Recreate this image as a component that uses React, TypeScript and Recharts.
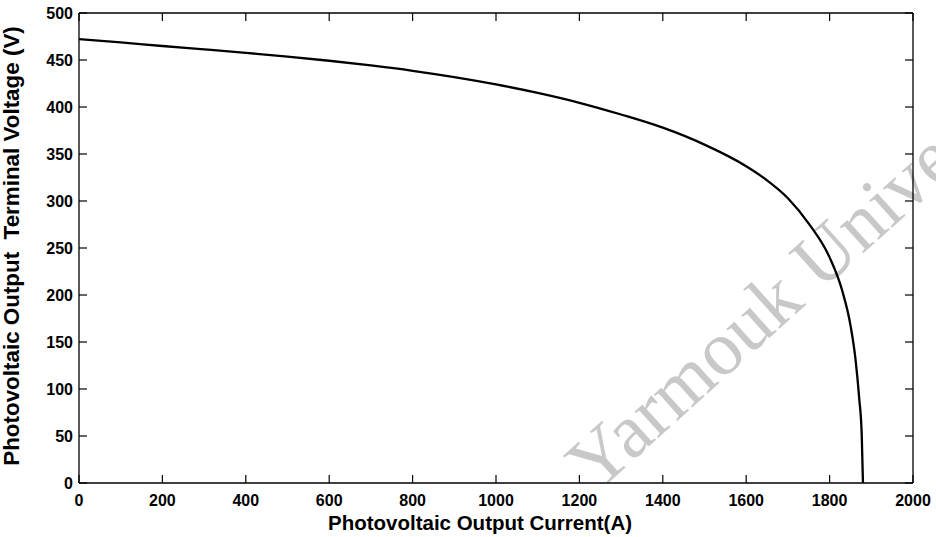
import { LineChart, Line, XAxis, YAxis, ReferenceLine } from "recharts";

// PV array I-V characteristic: output current (A) vs terminal voltage (V)
const currentA = [
  0, 100, 200, 300, 400, 500, 600, 700, 800, 900, 1000, 1100, 1200, 1300,
  1400, 1500, 1600, 1650, 1700, 1750, 1800, 1830, 1850, 1862, 1871, 1877, 1880,
];
const voltageV = [
  472.2, 468.7, 464.9, 461.3, 457.6, 453.6, 449.2, 444.2, 438.5, 431.8, 424,
  415, 404.5, 392, 378, 360, 337, 322, 303, 276, 240, 205, 168, 132, 90, 52, 0,
];

const xTicks = [0, 200, 400, 600, 800, 1000, 1200, 1400, 1600, 1800, 2000];
const yTicks = [0, 50, 100, 150, 200, 250, 300, 350, 400, 450, 500];

const data = currentA.map((c, i) => ({ current: c, voltage: voltageV[i] }));

const W = 936;
const H = 537;
const MARGIN = { top: 13, right: 23, bottom: 0, left: 0 };
const X_AXIS_H = 54;
const Y_AXIS_W = 79;
const PLOT_W = W - MARGIN.right - MARGIN.left - Y_AXIS_W;
const PLOT_H = H - MARGIN.top - MARGIN.bottom - X_AXIS_H;

const FONT = '"Liberation Sans", Arial, Helvetica, sans-serif';
const TICK_LEN = 8;

// bottom ticks also draw the mirrored inward tick on the top edge
const BottomTick = ({ x, y, payload }: any) => (
  <g>
    <line x1={x} y1={y} x2={x} y2={y - TICK_LEN} stroke="#000" strokeWidth={1.2} />
    <line
      x1={x}
      y1={y - PLOT_H}
      x2={x}
      y2={y - PLOT_H + TICK_LEN}
      stroke="#000"
      strokeWidth={1.2}
    />
    <text
      x={x}
      y={y + 23}
      textAnchor="middle"
      fontFamily={FONT}
      fontWeight="bold"
      fontSize={16}
      fill="#000"
    >
      {payload.value}
    </text>
  </g>
);

// left ticks also draw the mirrored inward tick on the right edge
const LeftTick = ({ x, y, payload }: any) => (
  <g>
    <line x1={x} y1={y} x2={x + TICK_LEN} y2={y} stroke="#000" strokeWidth={1.2} />
    <line
      x1={x + PLOT_W}
      y1={y}
      x2={x + PLOT_W - TICK_LEN}
      y2={y}
      stroke="#000"
      strokeWidth={1.2}
    />
    <text
      x={x - 6}
      y={y}
      dy="0.36em"
      textAnchor="end"
      fontFamily={FONT}
      fontWeight="bold"
      fontSize={16}
      fill="#000"
    >
      {payload.value}
    </text>
  </g>
);

const axisLine = { stroke: "#000", strokeWidth: 1.3 };

export default function App() {
  return (
    <div style={{ position: "absolute", left: 0, top: 0, width: W, height: H, background: "#fff" }}>
      {/* watermark sits under the chart */}
      <svg width={W} height={H} style={{ position: "absolute", left: 0, top: 0 }}>
        <text
          x={596}
          y={494}
          transform="rotate(-42 596 494)"
          fontFamily='"Liberation Serif", "Times New Roman", serif'
          fontSize={77}
          fill="#c8c8c8"
        >
          Yarmouk University
        </text>
      </svg>
      <div style={{ position: "absolute", left: 0, top: 0 }}>
        <LineChart width={W} height={H} data={data} margin={MARGIN}>
          <XAxis
            dataKey="current"
            type="number"
            domain={[0, 2000]}
            ticks={xTicks}
            allowDataOverflow
            height={X_AXIS_H}
            tickSize={0}
            tickMargin={0}
            tick={<BottomTick />}
            tickLine={false}
            axisLine={axisLine}
            interval={0}
            label={{
              content: () => (
                <text
                  x={480}
                  y={530}
                  textAnchor="middle"
                  fontFamily={FONT}
                  fontWeight="bold"
                  fontSize={20.5}
                  fill="#000"
                >
                  Photovoltaic Output Current(A)
                </text>
              ),
            }}
          />
          <YAxis
            dataKey="voltage"
            type="number"
            domain={[0, 500]}
            ticks={yTicks}
            allowDataOverflow
            width={Y_AXIS_W}
            tickSize={0}
            tickMargin={0}
            tick={<LeftTick />}
            tickLine={false}
            axisLine={axisLine}
            interval={0}
            label={{
              content: () => (
                <text
                  x={19}
                  y={246}
                  transform="rotate(-90 19 246)"
                  textAnchor="middle"
                  fontFamily={FONT}
                  fontWeight="bold"
                  fontSize={22.4}
                  fill="#000"
                  style={{ whiteSpace: "pre" }}
                >
                  {"Photovoltaic Output  Terminal Voltage (V)"}
                </text>
              ),
            }}
          />
          {/* top and right edges of the box */}
          <ReferenceLine y={500} stroke="#000" strokeWidth={1.3} />
          <ReferenceLine x={2000} stroke="#000" strokeWidth={1.3} />
          <Line
            type="monotone"
            dataKey="voltage"
            stroke="#000"
            strokeWidth={2.3}
            dot={false}
            isAnimationActive={false}
          />
        </LineChart>
      </div>
    </div>
  );
}
